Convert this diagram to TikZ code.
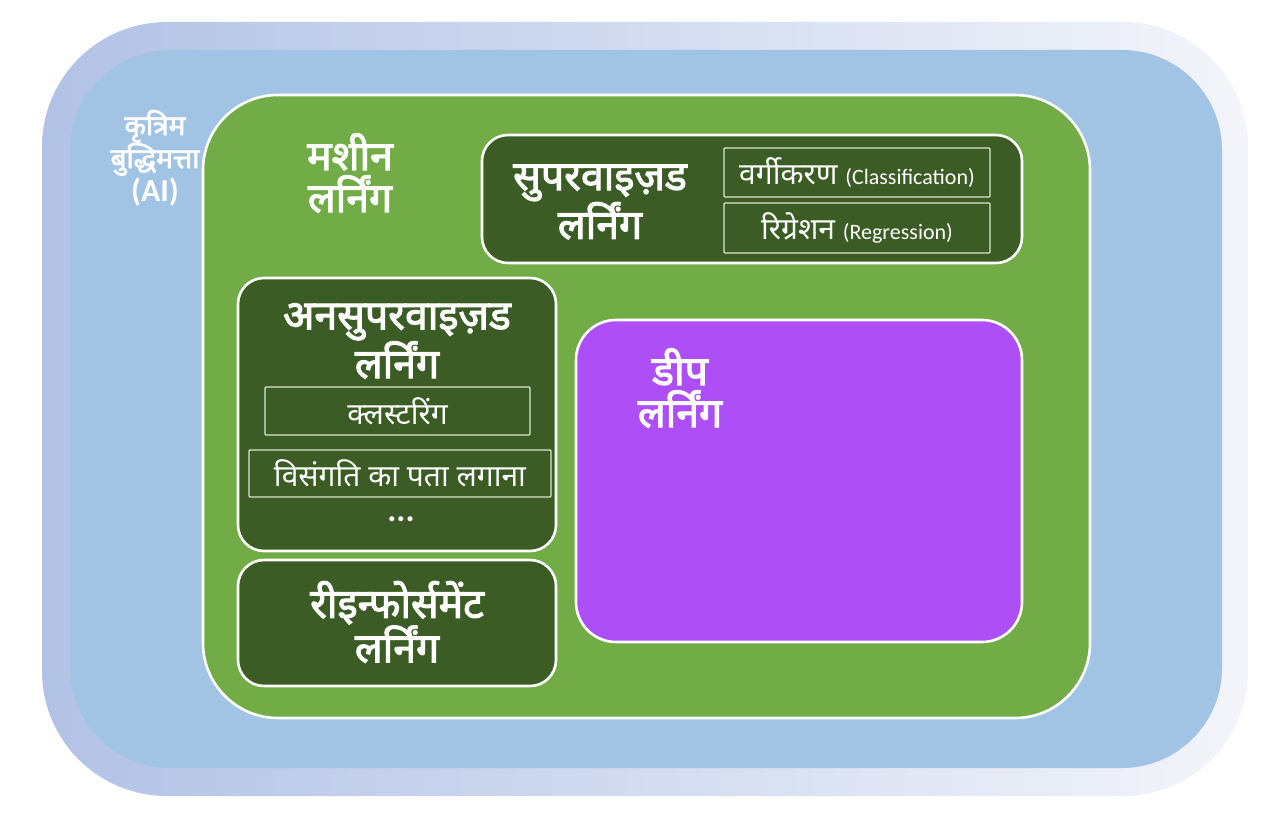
\documentclass[tikz,border=0pt]{standalone}
\usepackage{fontspec}
\setmainfont[Script=Devanagari, BoldFont={Noto Sans}, BoldFeatures={FakeBold=2.6}]{Noto Sans}
\newfontfamily\lat{Carlito}
\definecolor{haloA}{HTML}{B2C2E6}
\definecolor{haloB}{HTML}{F3F5FA}
\definecolor{aiblue}{HTML}{A2C4E4}
\definecolor{mlgreen}{HTML}{71AC47}
\definecolor{dkgreen}{HTML}{3B5C24}
\definecolor{dlpurple}{HTML}{AD4EF7}
\definecolor{itemline}{HTML}{DCE8D2}
\tikzset{
  panel/.style={draw=white, line width=2.6pt, rounded corners=26pt, fill=dkgreen},
  itembox/.style={draw=itemline, line width=1.1pt, fill=dkgreen, rounded corners=1pt},
  title/.style={text=white, font=\bfseries\fontsize{41}{42}\selectfont, align=center, inner sep=0pt},
  itemtext/.style={text=white, font=\fontsize{30}{32}\selectfont, inner sep=0pt},
}
\begin{document}
\begin{tikzpicture}[x=1pt,y=-1pt]
\useasboundingbox (0,0) rectangle (1263,832);
\fill[white] (0,0) rectangle (1263,832);
% outer halo and AI area
\shade[left color=haloA, right color=haloB, rounded corners=125pt] (42,22) rectangle (1248,796);
\node[fill=aiblue, rounded corners=100pt, minimum width=1152pt, minimum height=718pt, inner sep=0pt] (ai) at (646,409) {};
\node[text=white, font=\bfseries\fontsize{28}{33}\selectfont, align=center, inner sep=0pt] (ailabel) at (155,158)
  {कृत्रिम\\ बुद्धिमत्ता\\ {\lat\bfseries\fontsize{32}{33}\selectfont (AI)}};
% machine learning
\node[draw=white, line width=2.6pt, fill=mlgreen, rounded corners=75pt, minimum width=887pt, minimum height=623pt, inner sep=0pt] (ml) at (646.5,406.5) {};
\node[title] (mllabel) at (350,173) {मशीन\\ लर्निंग};
% supervised
\node[panel, minimum width=540pt, minimum height=128pt, inner sep=0pt] (sup) at (752,199) {};
\node[title] (suplabel) at (600,202) {सुपरवाइज़ड\\ लर्निंग};
\node[itembox, minimum width=266pt, minimum height=49pt, inner sep=0pt] (cls) at (857,172.5) {};
\node[itemtext] at (cls) {वर्गीकरण {\lat\fontsize{22}{24}\selectfont (Classification)}};
\node[itembox, minimum width=266pt, minimum height=50pt, inner sep=0pt] (reg) at (857,228) {};
\node[itemtext] at (reg) {रिग्रेशन {\lat\fontsize{22}{24}\selectfont (Regression)}};
% unsupervised
\node[panel, minimum width=318pt, minimum height=273pt, inner sep=0pt] (uns) at (397,414.5) {};
\node[title] (unslabel) at (397,341) {अनसुपरवाइज़ड\\ लर्निंग};
\node[itembox, minimum width=265pt, minimum height=48pt, inner sep=0pt] (clu) at (397.5,411) {};
\node[itemtext] at (clu) {क्लस्टरिंग};
\node[itembox, minimum width=302pt, minimum height=47pt, inner sep=0pt] (ano) at (400,473.5) {};
\node[itemtext] at (ano) {विसंगति का पता लगाना};
\node[text=white, font=\lat\bfseries\fontsize{34}{36}\selectfont, inner sep=0pt, text height=5pt, text depth=0pt, anchor=base] (dots) at (401,521) {...};
% reinforcement
\node[panel, minimum width=318pt, minimum height=126pt, inner sep=0pt] (rl) at (397,623) {};
\node[title] (rllabel) at (397,622) {रीइन्फोर्समेंट\\ लर्निंग};
% deep learning
\node[draw=white, line width=2.6pt, fill=dlpurple, rounded corners=40pt, minimum width=446pt, minimum height=322pt, inner sep=0pt] (dl) at (799,481) {};
\node[title] (dllabel) at (680,388) {डीप\\ लर्निंग};
\end{tikzpicture}
\end{document}
